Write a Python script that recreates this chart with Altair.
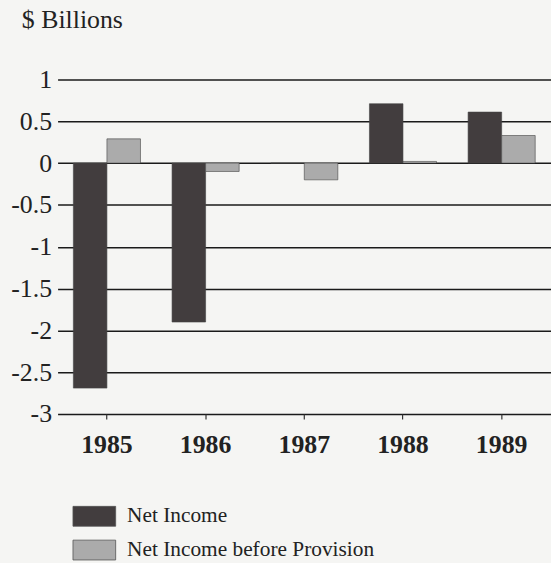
import altair as alt
import pandas as pd

years = ["1985", "1986", "1987", "1988", "1989"]
net_income = [-2.69, -1.90, 0.0, 0.71, 0.61]
net_income_before_provision = [0.29, -0.10, -0.20, 0.02, 0.33]
series_names = ["Net Income", "Net Income before Provision"]
y_ticks = [1, 0.5, 0, -0.5, -1, -1.5, -2, -2.5, -3]

rows = []
for i, yr in enumerate(years):
    rows.append({"year": yr, "series": series_names[0], "value": net_income[i]})
    rows.append({"year": yr, "series": series_names[1], "value": net_income_before_provision[i]})
df = pd.DataFrame(rows)

FONT = "Liberation Serif"
BG = "#f5f5f3"

bars = alt.Chart(df).mark_bar(stroke="#444444", strokeWidth=0.6).encode(
    x=alt.X("year:N", sort=years,
            scale=alt.Scale(paddingInner=0.32, paddingOuter=0.16),
            axis=alt.Axis(title=None, labelAngle=0, labelFont=FONT, labelFontSize=26,
                          labelFontWeight="bold", labelColor="#222222",
                          domain=False, ticks=True, tickSize=5, tickColor="#333333",
                          tickWidth=1.2, labelPadding=13, grid=False)),
    xOffset=alt.XOffset("series:N", sort=series_names),
    y=alt.Y("value:Q", scale=alt.Scale(domain=[-3, 1], nice=False),
            axis=alt.Axis(title=None, values=y_ticks, labelFont=FONT, labelFontSize=26,
                          labelColor="#222222", domain=False, ticks=False, labelPadding=6,
                          grid=True, gridColor="#1a1a1a", gridWidth=1.5,
                          labelExpr="datum.value")),
    color=alt.Color("series:N", sort=series_names,
                    scale=alt.Scale(domain=series_names, range=["#423d3e", "#ababab"]),
                    legend=alt.Legend(title=None, orient="none", legendX=15, legendY=418,
                                      direction="vertical", labelFont=FONT, labelFontSize=21.5,
                                      labelColor="#222222", labelOffset=11, labelLimit=400,
                                      symbolType="M-1,-0.465L1,-0.465L1,0.465L-1,0.465Z",
                                      symbolSize=1849, symbolStrokeColor="#555555",
                                      symbolStrokeWidth=0.8, rowPadding=0, padding=0)),
)

title_df = pd.DataFrame({"t": ["$ Billions"]})
title = alt.Chart(title_df).mark_text(font=FONT, fontSize=26, color="#222222",
                                       align="left", baseline="alphabetic").encode(
    text="t:N", x=alt.value(-36), y=alt.value(-52))

chart = alt.layer(title, bars).properties(
    width=497, height=337,
    autosize=alt.AutoSizeParams(type="none"),
    padding={"left": 58, "top": 78, "right": 0, "bottom": 148},
    background=BG,
).configure_view(stroke=None, fill=BG).configure_axis(
    labelFont=FONT
).configure_legend(labelFont=FONT).configure_text(font=FONT)

chart.save("out.html", embed_options={"renderer": "svg", "actions": False})
